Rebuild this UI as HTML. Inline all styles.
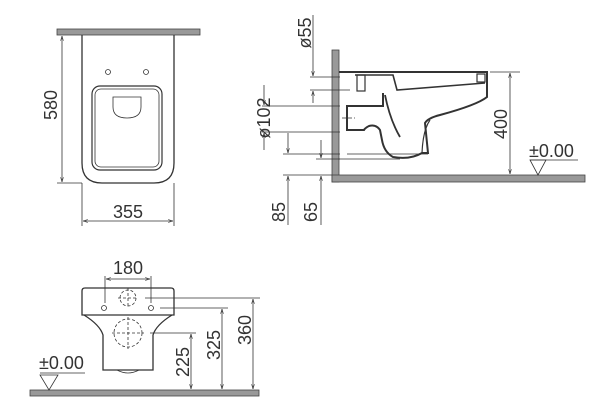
<!DOCTYPE html>
<html><head><meta charset="utf-8"><style>
html,body{margin:0;padding:0;background:#fff;}
svg{display:block}
text{font-family:"Liberation Sans",sans-serif;fill:#333;}
</style></head><body>
<svg width="600" height="409" viewBox="0 0 600 409" xmlns="http://www.w3.org/2000/svg">
<defs>
<marker id="a" viewBox="0 0 10 10" refX="10" refY="5" markerWidth="6" markerHeight="6" orient="auto-start-reverse"><path d="M0,2 L10,5 L0,8" fill="none" stroke="#333" stroke-width="1.2"/></marker>
</defs>
<g stroke="#333" fill="none" stroke-width="0.8">
<!-- TOP VIEW -->
<rect x="57" y="29" width="143" height="6" fill="#999" stroke="#444"/>
<path d="M82,35 V163 Q82,183 102,183 H154 Q174,183 174,163 V35" stroke-width="1.3"/>
<circle cx="108" cy="72" r="2.5"/><circle cx="146" cy="72" r="2.5"/>
<rect x="92" y="86" width="70" height="84" rx="8" stroke-width="1.2"/>
<rect x="95" y="89" width="64" height="78" rx="6"/>
<path d="M113,97 H141 V107 Q141,118 127,118 Q113,118 113,107 Z"/>
<line x1="57" y1="183" x2="82" y2="183"/>
<line x1="62" y1="36" x2="62" y2="182" marker-start="url(#a)" marker-end="url(#a)"/>
<line x1="82" y1="183" x2="82" y2="226"/><line x1="174" y1="183" x2="174" y2="226"/>
<line x1="83" y1="221" x2="173" y2="221" marker-start="url(#a)" marker-end="url(#a)"/>

<!-- SIDE VIEW -->
<rect x="332" y="50" width="7" height="132" fill="#999" stroke="#444"/>
<rect x="332" y="175" width="253" height="7" fill="#999" stroke="#444"/>
<path d="M339,72 H487 V97 Q477,105 440,115 Q428,118 425,123 L428,153 H422 Q410,160 393,157 Q384,152 382,140 L380,130 Q376,124 369,126 Q365,128 364,130 H347 V106 H383 V93" stroke-width="2"/>
<path d="M385,95 Q390,120 400,137" stroke-width="1.8"/>
<path d="M430,120 Q423,130 422,153" stroke-width="1.2"/>
<path d="M355,75 H393 L397,90 L485,83" stroke-width="1.6"/>
<rect x="357" y="75" width="8" height="16" stroke-width="1.2"/>
<rect x="477" y="74" width="8" height="8" stroke-width="1.2"/>
<path d="M347,154 H428" /><path d="M339,159 H400"/>
<line x1="342" y1="118" x2="355" y2="118" stroke-dasharray="4,2"/>
<!-- left dims -->
<line x1="310" y1="77" x2="340" y2="77"/><line x1="310" y1="90" x2="350" y2="90"/>
<line x1="313" y1="15" x2="313" y2="76" marker-end="url(#a)"/>
<line x1="313" y1="103" x2="313" y2="91" marker-end="url(#a)"/>
<line x1="262" y1="106" x2="340" y2="106"/><line x1="262" y1="132" x2="340" y2="132"/>
<line x1="264" y1="85" x2="264" y2="105" marker-end="url(#a)"/>
<line x1="264" y1="150" x2="264" y2="133" marker-end="url(#a)"/>
<line x1="283" y1="154" x2="340" y2="154"/><line x1="316" y1="159" x2="340" y2="159"/>
<line x1="283" y1="175" x2="332" y2="175"/>
<line x1="288" y1="133" x2="288" y2="153" marker-end="url(#a)"/>
<line x1="321" y1="140" x2="321" y2="158" marker-end="url(#a)"/>
<line x1="288" y1="225" x2="288" y2="176" marker-end="url(#a)"/>
<line x1="321" y1="225" x2="321" y2="176" marker-end="url(#a)"/>
<line x1="490" y1="72" x2="520" y2="72"/>
<line x1="510" y1="73" x2="510" y2="174" marker-start="url(#a)" marker-end="url(#a)"/>
<path d="M530,160 L546,160 L538,175 Z"/><line x1="530" y1="160" x2="578" y2="160"/>

<!-- FRONT VIEW -->
<rect x="30" y="390" width="229" height="6" fill="#999" stroke="#444"/>
<path d="M85,288 H171 Q174,288 174,291 V315 H82 V291 Q82,288 85,288 Z" stroke-width="1.3"/>
<path d="M84,315 Q100,325 103,335 V370 H153 V335 Q156,325 172,315" stroke-width="1.3"/>
<path d="M117,370 Q128,376 139,370"/>
<circle cx="128" cy="298" r="8" stroke-dasharray="3,2"/>
<line x1="118" y1="298" x2="138" y2="298" stroke-dasharray="3,2"/><line x1="128" y1="288" x2="128" y2="308" stroke-dasharray="3,2"/>
<circle cx="128" cy="333" r="14" stroke-dasharray="3,2"/>
<line x1="112" y1="333" x2="144" y2="333" stroke-dasharray="3,2"/><line x1="128" y1="317" x2="128" y2="349" stroke-dasharray="3,2"/>
<circle cx="104" cy="308" r="2.5"/><circle cx="151" cy="308" r="2.5"/>
<line x1="105" y1="276" x2="105" y2="303"/><line x1="151" y1="276" x2="151" y2="303"/>
<line x1="106" y1="279" x2="150" y2="279" marker-start="url(#a)" marker-end="url(#a)"/>
<line x1="145" y1="298" x2="260" y2="298"/>
<line x1="160" y1="308" x2="228" y2="308"/>
<line x1="150" y1="333" x2="196" y2="333"/>
<line x1="253" y1="299" x2="253" y2="389" marker-start="url(#a)" marker-end="url(#a)"/>
<line x1="222" y1="309" x2="222" y2="389" marker-start="url(#a)" marker-end="url(#a)"/>
<line x1="191" y1="334" x2="191" y2="389" marker-start="url(#a)" marker-end="url(#a)"/>
<path d="M40,375 L58,375 L49,390 Z"/><line x1="40" y1="373" x2="85" y2="373"/>
</g>
<g font-size="18">
<text transform="translate(57,105) rotate(-90)" text-anchor="middle">580</text>
<text x="128" y="218" text-anchor="middle">355</text>
<text transform="translate(311,33) rotate(-90)" text-anchor="middle">ø55</text>
<text transform="translate(270,118) rotate(-90)" text-anchor="middle">ø102</text>
<text transform="translate(285,212) rotate(-90)" text-anchor="middle">85</text>
<text transform="translate(317,212) rotate(-90)" text-anchor="middle">65</text>
<text transform="translate(507,124) rotate(-90)" text-anchor="middle">400</text>
<text x="529" y="157">±0.00</text>
<text x="128" y="274" text-anchor="middle">180</text>
<text transform="translate(251,330) rotate(-90)" text-anchor="middle">360</text>
<text transform="translate(220,345) rotate(-90)" text-anchor="middle">325</text>
<text transform="translate(189,362) rotate(-90)" text-anchor="middle">225</text>
<text x="39" y="369">±0.00</text>
</g>
</svg>
</body></html>
